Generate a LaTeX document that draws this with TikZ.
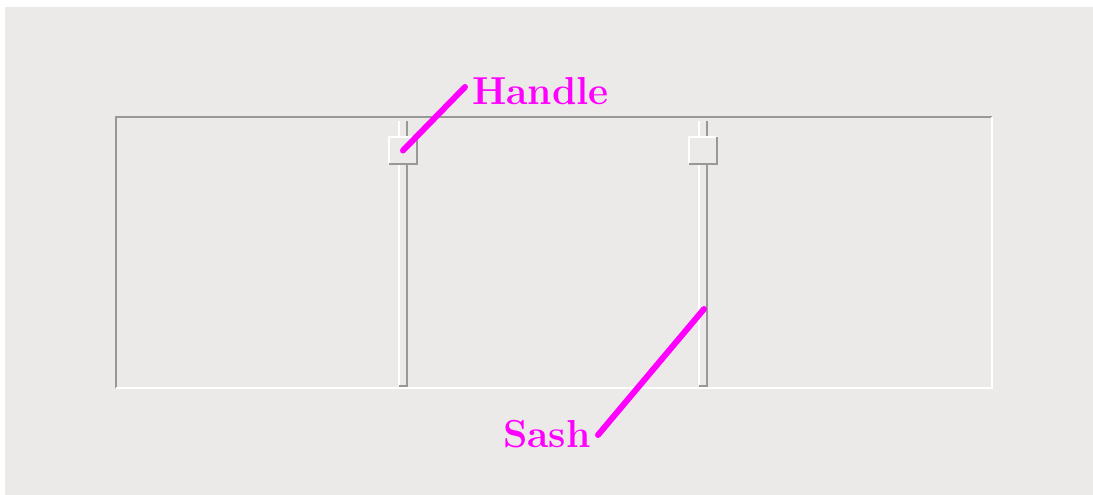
\documentclass[tikz,border=0pt]{standalone}
\usepackage{tikz}
\definecolor{panelbg}{HTML}{EBEAE8}
\definecolor{shadow}{HTML}{989896}
\definecolor{callout}{HTML}{FF00FF}
\tikzset{
  lit/.style={draw=white,line width=2pt},
  dark/.style={draw=shadow,line width=2.2pt},
  pointer/.style={callout,line width=6pt,line cap=round},
  tag/.style={text=callout,inner sep=0pt,font=\fontsize{39}{39}\selectfont\bfseries}
}
\begin{document}
\begin{tikzpicture}[x=1pt,y=-1pt]
  \useasboundingbox (0,0) rectangle (1093,495);
  % 背景
  \fill[panelbg] (5,7) rectangle (1093,495);
  % 外框（凹陷）
  \draw[dark] (116,388) -- (116,117) -- (992,117);
  \draw[lit] (992,117) -- (992,388) -- (116,388);
  % 分隔条
  \foreach \x/\n in {399/A,699/B}{
    \draw[lit] (\x,121) -- (\x,386);
    \draw[dark] (\x+8,121) -- (\x+8,386) -- (\x,386);
    \coordinate (sash\n) at (\x+5,309);
    % 手柄
    \node[fill=panelbg,inner sep=0pt,minimum width=27pt,minimum height=27pt]
      (handle\n) at (\x+4,150.5) {};
    \draw[lit] (handle\n.south west) -- (handle\n.north west) -- (handle\n.north east);
    \draw[dark] (handle\n.north east) -- (handle\n.south east) -- (handle\n.south west);
  }
  % 标注
  \node[tag,anchor=base west] (handleTag) at (472,105) {Handle};
  \node[tag,anchor=base west] (sashTag) at (503,447) {Sash};
  \coordinate (handleEnd) at (465,87);
  \coordinate (sashEnd) at (598,435);
  \draw[pointer] (handleA.center) -- (handleEnd);
  \draw[pointer] (sashEnd) -- (sashB);
\end{tikzpicture}
\end{document}
